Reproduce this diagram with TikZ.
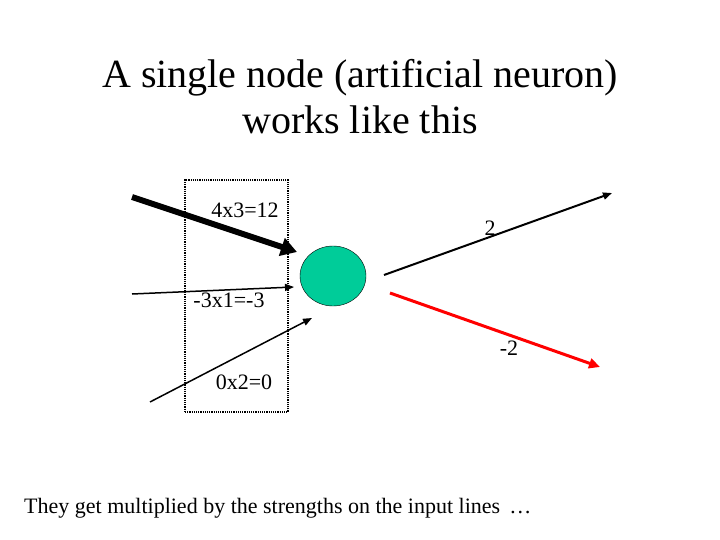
\documentclass[tikz,border=0pt]{standalone}
\usepackage{fontspec}
\setmainfont{Liberation Serif}
\usetikzlibrary{arrows.meta,shapes.geometric}
\begin{document}
\begin{tikzpicture}[x=1pt,y=-1pt,
  lbl/.style={font=\fontsize{22}{24}\selectfont,inner sep=0pt},
  arr/.style={-{Triangle[length=9pt,width=7pt]}}]
\useasboundingbox (0,0) rectangle (720,540);
\node[font=\fontsize{40}{46}\selectfont,align=center] (title) at (360,97) {A single node (artificial neuron)\\works like this};
\node[draw,densely dotted,line width=1.2pt,minimum width=103pt,minimum height=232pt,inner sep=0pt] (box) at (236.5,296) {};
\node[ellipse,draw,fill={rgb,255:red,0;green,204;blue,153},minimum width=66pt,minimum height=60pt,inner sep=0pt] (n) at (333,276) {};
\coordinate (a1) at (132,197); \coordinate (a2) at (297,252);
\coordinate (b1) at (132,294); \coordinate (b2) at (294,287);
\coordinate (c1) at (150,402); \coordinate (c2) at (312,318);
\coordinate (d1) at (384,275); \coordinate (d2) at (612,193);
\coordinate (e1) at (390,293); \coordinate (e2) at (600,367);
\draw[arr,line width=6pt,-{Triangle[length=16pt,width=18pt]}] (a1) -- (a2);
\draw[arr,line width=1.5pt] (b1) -- (b2);
\draw[arr,line width=1.5pt] (c1) -- (c2);
\draw[arr,line width=2pt] (d1) -- (d2);
\draw[red,line width=3pt,-{Triangle[length=11pt,width=10pt]}] (e1) -- (e2);
\node[lbl] (l1) at (245,210) {4x3=12};
\node[lbl] (l2) at (490,228) {2};
\node[lbl] (l3) at (229,300) {-3x1=-3};
\node[lbl] (l4) at (509,348) {-2};
\node[lbl] (l5) at (244,382) {0x2=0};
\node[lbl,anchor=west] (cap) at (24,508) {They get multiplied by the strengths on the input lines \,…};
\end{tikzpicture}
\end{document}
